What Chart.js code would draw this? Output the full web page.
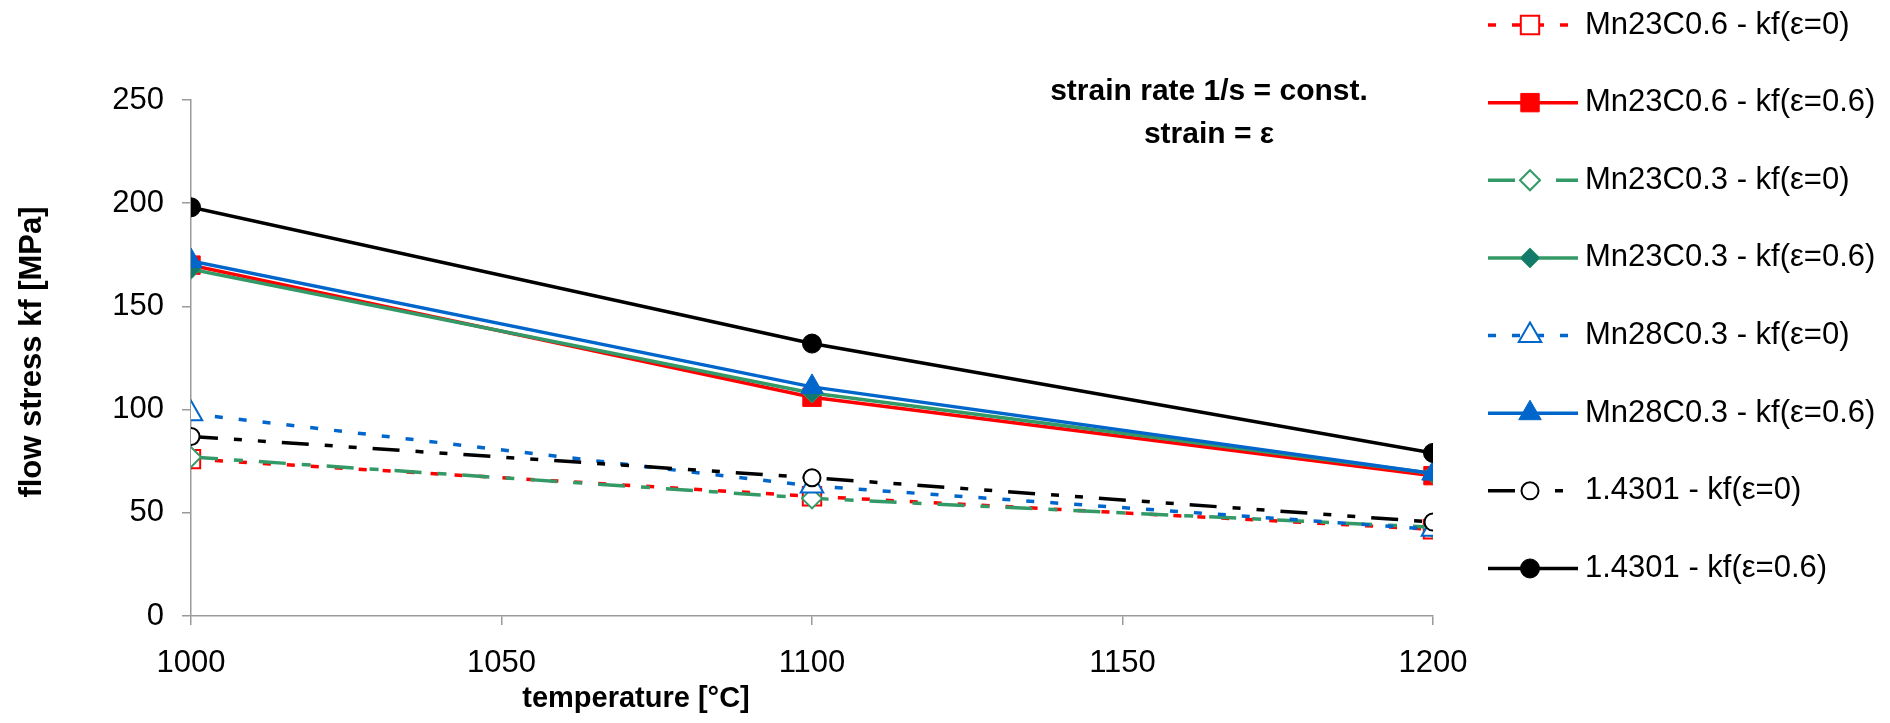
<!DOCTYPE html>
<html>
<head>
<meta charset="utf-8">
<script src="https://cdn.jsdelivr.net/npm/chart.js@4.4.0/dist/chart.umd.min.js"></script>
<style>
  html, body { margin: 0; padding: 0; background: #fff; }
  canvas { display: block; }
</style>
</head>
<body>
<canvas id="flow-chart" width="1890" height="723"></canvas>
<script>
// values
const temperatures = [1000, 1100, 1200]
const mn23c06Eps0 = [76, 58, 42]
const mn23c06Eps06 = [170, 106, 68]
const mn23c03Eps0 = [77, 57, 43]
const mn23c03Eps06 = [168, 108, 69]
const mn28c03Eps0 = [98, 63, 42]
const mn28c03Eps06 = [172, 111, 69]
const steelEps0 = [87, 67, 45.5]
const steelEps06 = [198, 132, 79]

const seriesLabels = [
  'Mn23C0.6 - kf(ε=0)', 'Mn23C0.6 - kf(ε=0.6)',
  'Mn23C0.3 - kf(ε=0)', 'Mn23C0.3 - kf(ε=0.6)',
  'Mn28C0.3 - kf(ε=0)', 'Mn28C0.3 - kf(ε=0.6)',
  '1.4301 - kf(ε=0)', '1.4301 - kf(ε=0.6)'
]
const xTicks = [1000, 1050, 1100, 1150, 1200]
const yTicks = [0, 50, 100, 150, 200, 250]
const noteLines = ['strain rate 1/s = const.', 'strain = ε']
const xTitle = 'temperature [°C]'
const yTitle = 'flow stress kf [MPa]'

const FONT = '"Liberation Sans", Arial, sans-serif'

const red = '#ff0000'
const green = '#339966'
const teal = '#147a6c'
const blue = '#0066cc'
const black = '#000000'

const makeSet = (label, values, color, dash, style, radius, filled, fill) => ({
  label,
  data: values.map((v, i) => ({ x: temperatures[i], y: v })),
  borderColor: color,
  borderWidth: 3.5,
  borderDash: dash,
  pointStyle: style,
  pointRadius: radius,
  pointHoverRadius: radius,
  pointBorderWidth: filled ? 1 : 2,
  pointBorderColor: color,
  pointBackgroundColor: filled ? (fill || color) : '#ffffff',
  fill: false,
  tension: 0
})

const datasets = [
  makeSet(seriesLabels[0], mn23c06Eps0, red, [8, 16], 'rect', 13, false),
  makeSet(seriesLabels[1], mn23c06Eps06, red, [], 'rect', 13, true),
  makeSet(seriesLabels[2], mn23c03Eps0, green, [27, 16, 9, 16], 'rectRot', 10, false),
  makeSet(seriesLabels[3], mn23c03Eps06, green, [], 'rectRot', 10, true, teal),
  makeSet(seriesLabels[4], mn28c03Eps0, blue, [8, 16], 'triangle', 13, false),
  makeSet(seriesLabels[5], mn28c03Eps06, blue, [], 'triangle', 13, true),
  makeSet(seriesLabels[6], steelEps0, black, [27, 16, 8, 16, 8, 16], 'circle', 8.5, false),
  makeSet(seriesLabels[7], steelEps06, black, [], 'circle', 9.5, true)
]
// later series on top, like the original
datasets.forEach((d, i) => { d.order = datasets.length - i })

const drawMarker = (ctx, style, r, x, y) => {
  ctx.beginPath()
  if (style === 'rect') {
    const s = Math.SQRT1_2 * r
    ctx.rect(x - s, y - s, 2 * s, 2 * s)
  } else if (style === 'rectRot') {
    ctx.moveTo(x - r, y)
    ctx.lineTo(x, y - r)
    ctx.lineTo(x + r, y)
    ctx.lineTo(x, y + r)
    ctx.closePath()
  } else if (style === 'triangle') {
    let a = 0
    ctx.moveTo(x + Math.sin(a) * r, y - Math.cos(a) * r)
    a += Math.PI * 2 / 3
    ctx.lineTo(x + Math.sin(a) * r, y - Math.cos(a) * r)
    a += Math.PI * 2 / 3
    ctx.lineTo(x + Math.sin(a) * r, y - Math.cos(a) * r)
    ctx.closePath()
  } else {
    ctx.arc(x, y, r, 0, Math.PI * 2)
  }
  ctx.fill()
  ctx.stroke()
}

const extrasPlugin = {
  id: 'extras',
  afterDraw(chart) {
    const ctx = chart.ctx
    ctx.save()
    ctx.fillStyle = '#000'
    ctx.textBaseline = 'middle'

    // axis titles
    ctx.font = `bold 31px ${FONT}`
    ctx.textAlign = 'center'
    ctx.save()
    ctx.translate(32, 352)
    ctx.rotate(-Math.PI / 2)
    ctx.fillText(yTitle, 0, 0)
    ctx.restore()
    ctx.font = `bold 29px ${FONT}`
    ctx.fillText(xTitle, 636, 699)

    // note text
    ctx.font = `bold 30px ${FONT}`
    ctx.fillText(noteLines[0], 1209, 92)
    ctx.fillText(noteLines[1], 1209, 135)

    // legend
    ctx.font = `31px ${FONT}`
    ctx.textAlign = 'left'
    chart.data.datasets.forEach((d, i) => {
      const y = 25 + i * 77.64
      ctx.save()
      ctx.strokeStyle = d.borderColor
      ctx.lineWidth = d.borderWidth
      ctx.setLineDash(d.borderDash)
      ctx.beginPath()
      ctx.moveTo(1488, y)
      ctx.lineTo(1578, y)
      ctx.stroke()
      ctx.setLineDash([])
      ctx.lineWidth = d.pointBorderWidth
      ctx.strokeStyle = d.pointBorderColor
      ctx.fillStyle = d.pointBackgroundColor
      drawMarker(ctx, d.pointStyle, d.pointRadius, 1530, y)
      ctx.restore()
      ctx.fillText(d.label, 1585, y)
    })
    ctx.restore()
  }
}

const axisColor = '#9a9a9a'

const chart = new Chart(document.getElementById('flow-chart'), {
  type: 'line',
  data: { datasets },
  options: {
    responsive: false,
    animation: false,
    devicePixelRatio: 1,
    layout: { padding: { top: 100, right: 457, left: 0, bottom: 0 } },
    plugins: {
      legend: { display: false },
      tooltip: { enabled: false }
    },
    scales: {
      x: {
        type: 'linear',
        min: 1000,
        max: 1200,
        afterFit: (s) => { s.height = 107 },
        afterBuildTicks: (s) => { s.ticks = xTicks.map(v => ({ value: v })) },
        border: { display: true, color: axisColor, width: 1.5 },
        grid: { drawOnChartArea: false, drawTicks: true, tickLength: 9, color: axisColor, lineWidth: 1.5 },
        ticks: {
          color: '#000',
          padding: 20,
          maxRotation: 0,
          font: { family: FONT, size: 31 },
          callback: (v) => String(v)
        }
      },
      y: {
        min: 0,
        max: 250,
        afterFit: (s) => { s.width = 191 },
        afterBuildTicks: (s) => { s.ticks = yTicks.map(v => ({ value: v })) },
        border: { display: true, color: axisColor, width: 1.5 },
        grid: { drawOnChartArea: false, drawTicks: true, tickLength: 9, color: axisColor, lineWidth: 1.5 },
        ticks: {
          color: '#000',
          padding: 18,
          font: { family: FONT, size: 31 },
          callback: (v) => String(v)
        }
      }
    }
  },
  plugins: [extrasPlugin]
})
</script>
</body>
</html>
